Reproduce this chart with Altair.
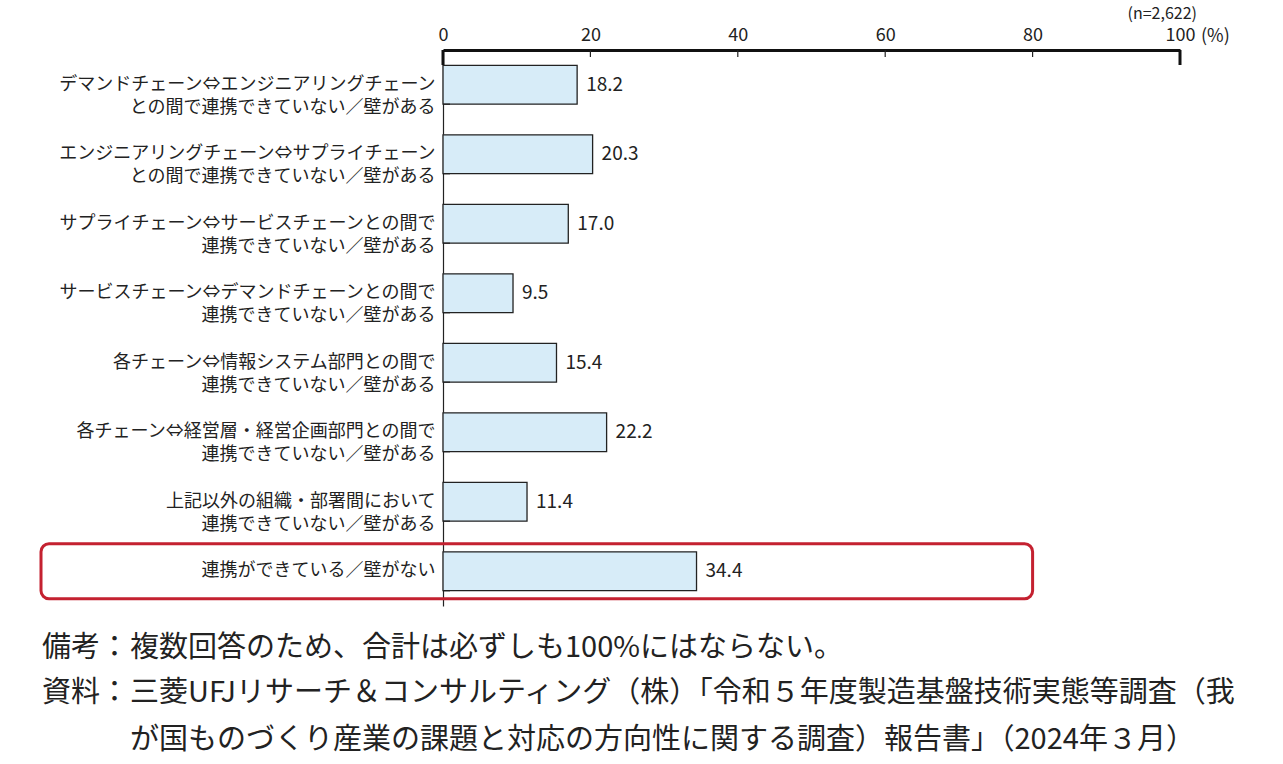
import altair as alt
import pandas as pd

FONT = "Noto Sans CJK JP"

categories = [
    "デマンドチェーン⇔エンジニアリングチェーン|との間で連携できていない／壁がある",
    "エンジニアリングチェーン⇔サプライチェーン|との間で連携できていない／壁がある",
    "サプライチェーン⇔サービスチェーンとの間で|連携できていない／壁がある",
    "サービスチェーン⇔デマンドチェーンとの間で|連携できていない／壁がある",
    "各チェーン⇔情報システム部門との間で|連携できていない／壁がある",
    "各チェーン⇔経営層・経営企画部門との間で|連携できていない／壁がある",
    "上記以外の組織・部署間において|連携できていない／壁がある",
    "連携ができている／壁がない",
]
values = [18.2, 20.3, 17.0, 9.5, 15.4, 22.2, 11.4, 34.4]
x_ticks = [0, 20, 40, 60, 80, 100]
minor_ticks = [20, 40, 60, 80]
end_ticks = [0, 100]
highlight = ["連携ができている／壁がない"]
highlight_end = 80
sample_note = "(n=2,622)"
unit_note = "(%)"
note_heads = ["備考：", "資料："]
note_lines = [
    "複数回答のため、合計は必ずしも100%にはならない。",
    "三菱UFJリサーチ＆コンサルティング（株）「令和５年度製造基盤技術実態等調査（我",
    "が国ものづくり産業の課題と対応の方向性に関する調査）報告書」（2024年３月）",
]

df = pd.DataFrame({"cat": categories, "value": values})
df["label"] = [f"{v:.1f}" for v in values]

y_enc = alt.Y(
    "cat:N",
    sort=categories,
    title="",
    scale=alt.Scale(domain=categories, paddingInner=0.44, paddingOuter=0.22),
    axis=alt.Axis(
        title="",
        labelExpr="split(datum.label, '|')",
        labelFont=FONT,
        labelFontSize=18,
        labelColor="#222",
        labelLineHeight=23,
        labelLimit=600,
        labelPadding=8,
        labelAlign="right",
        labelBaseline="middle",
        ticks=False,
        grid=False,
        domainColor="#222",
        domainWidth=1.2,
    ),
)

bars = alt.Chart(df).mark_bar(
    fill="#d7ecf8", stroke="#222", strokeWidth=1.3
).encode(
    x=alt.X(
        "value:Q",
        title="",
        scale=alt.Scale(domain=[0, 100], nice=False),
        axis=alt.Axis(
            orient="top",
            title="",
            values=x_ticks,
            ticks=False,
            grid=False,
            labelFlush=False,
            labelFont=FONT,
            labelFontSize=18,
            labelColor="#222",
            labelPadding=6,
            domainColor="#111",
            domainWidth=3,
        ),
    ),
    y=y_enc,
)

value_text = alt.Chart(df).mark_text(
    align="left", baseline="middle", dx=9, font=FONT, fontSize=19, color="#222"
).encode(
    x=alt.X("value:Q", title=""),
    y=alt.Y("cat:N", title=""),
    text="label:N",
)

left_ticks = alt.Chart(pd.DataFrame({"cat": categories})).mark_rule(
    color="#222", strokeWidth=1.2
).encode(
    y=alt.Y("cat:N", bandPosition=1, title=""),
    x=alt.value(0),
    x2=alt.value(7),
)

top_minor = alt.Chart(pd.DataFrame({"value": minor_ticks})).mark_rule(
    color="#222", strokeWidth=1.2
).encode(
    x=alt.X("value:Q", title=""),
    y=alt.value(0),
    y2=alt.value(7),
)

top_major = alt.Chart(pd.DataFrame({"value": end_ticks})).mark_rule(
    color="#111", strokeWidth=3
).encode(
    x=alt.X("value:Q", title=""),
    y=alt.value(0),
    y2=alt.value(15),
)

box = alt.Chart(pd.DataFrame({"cat": highlight})).mark_bar(
    fill="#ffffff", fillOpacity=0, stroke="#c42130", strokeWidth=3,
    cornerRadius=8, size=55
).encode(
    x=alt.datum(highlight_end),
    x2=alt.value(-402),
    y=alt.Y("cat:N", title=""),
)

unit = alt.Chart(pd.DataFrame({"t": [unit_note]})).mark_text(
    align="left", baseline="middle", dx=21, font=FONT, fontSize=18, color="#222"
).encode(
    x=alt.datum(100),
    y=alt.value(-13),
    text="t:N",
)

nnote = alt.Chart(pd.DataFrame({"t": [sample_note]})).mark_text(
    align="right", baseline="middle", dx=17, font=FONT, fontSize=16, color="#222"
).encode(
    x=alt.datum(100),
    y=alt.value(-36),
    text="t:N",
)

head_layers = []
for txt, yy in zip(note_heads, [598, 643]):
    head_layers.append(
        alt.Chart(pd.DataFrame({"t": [txt]})).mark_text(
            align="left", baseline="middle", font=FONT, fontSize=29, color="#222"
        ).encode(x=alt.value(-401), y=alt.value(yy), text="t:N")
    )
line_layers = []
for txt, yy in zip(note_lines, [598, 643, 690]):
    line_layers.append(
        alt.Chart(pd.DataFrame({"t": [txt]})).mark_text(
            align="left", baseline="middle", font=FONT, fontSize=29, color="#222"
        ).encode(x=alt.value(-313), y=alt.value(yy), text="t:N")
    )

chart = alt.layer(
    box, bars, value_text, left_ticks, top_minor, top_major, unit, nnote,
    *head_layers, *line_layers
).properties(
    width=737,
    height=556,
    autosize=alt.AutoSizeParams(type="none"),
    padding={"left": 443, "top": 50, "right": 103, "bottom": 158},
    background="white",
).configure_view(stroke=None)

chart.save("out.html", embed_options={"renderer": "svg", "actions": False})
